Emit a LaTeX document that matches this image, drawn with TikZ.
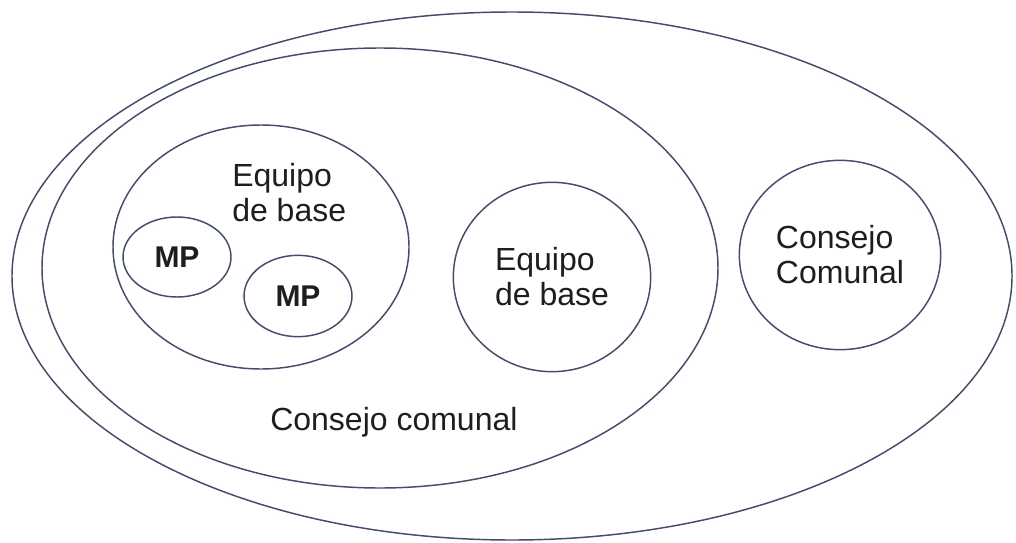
\documentclass[tikz,border=0pt]{standalone}
\usepackage{fontspec}
\setmainfont{Liberation Sans}
\usetikzlibrary{shapes.geometric}
\definecolor{ringblue}{RGB}{66,76,108}
\definecolor{inkgray}{RGB}{30,30,30}
\def \ringWidth {1.1pt}

\begin{document}
\begin{tikzpicture}[x=0.75pt, y=-0.75pt,
    ring/.style={draw=ringblue, line width=\ringWidth, ellipse, inner sep=0pt},
    txt/.style={text=inkgray, font=\fontsize{24}{26.25}\selectfont, align=left, inner sep=0pt},
    mptxt/.style={text=inkgray, font=\fontsize{22.5}{26}\selectfont\bfseries}]
  \useasboundingbox (0,0) rectangle (1016,542);
  % outer rings
  \draw[ringblue, line width=\ringWidth] (512,276) ellipse (500 and 264);
  \draw[ringblue, line width=\ringWidth] (380,268) ellipse (338 and 220);
  \node[txt, anchor=base west] (consejoComunal) at (270,430) {Consejo comunal};
  % left team with its MPs
  \draw[ringblue, line width=\ringWidth] (261,247) ellipse (148 and 122);
  \node[txt, anchor=base west] (equipoUno) at (232,186) {Equipo};
  \node[txt, anchor=base west] (equipoUnoB) at (232,221) {de base};
  \node[ring, mptxt, minimum width=81pt, minimum height=60pt] (mpUno) at (177,257) {MP};
  \node[ring, mptxt, minimum width=81pt, minimum height=61pt] (mpDos) at (298,296) {MP};
  % second team and the other council
  \node[ring, txt, minimum width=148pt, minimum height=142pt] (equipoDos) at (552,277) {Equipo\\de base};
  \node[ring, txt, minimum width=151pt, minimum height=142pt] (consejoDos) at (840,255) {Consejo\\Comunal};
\end{tikzpicture}
\end{document}
